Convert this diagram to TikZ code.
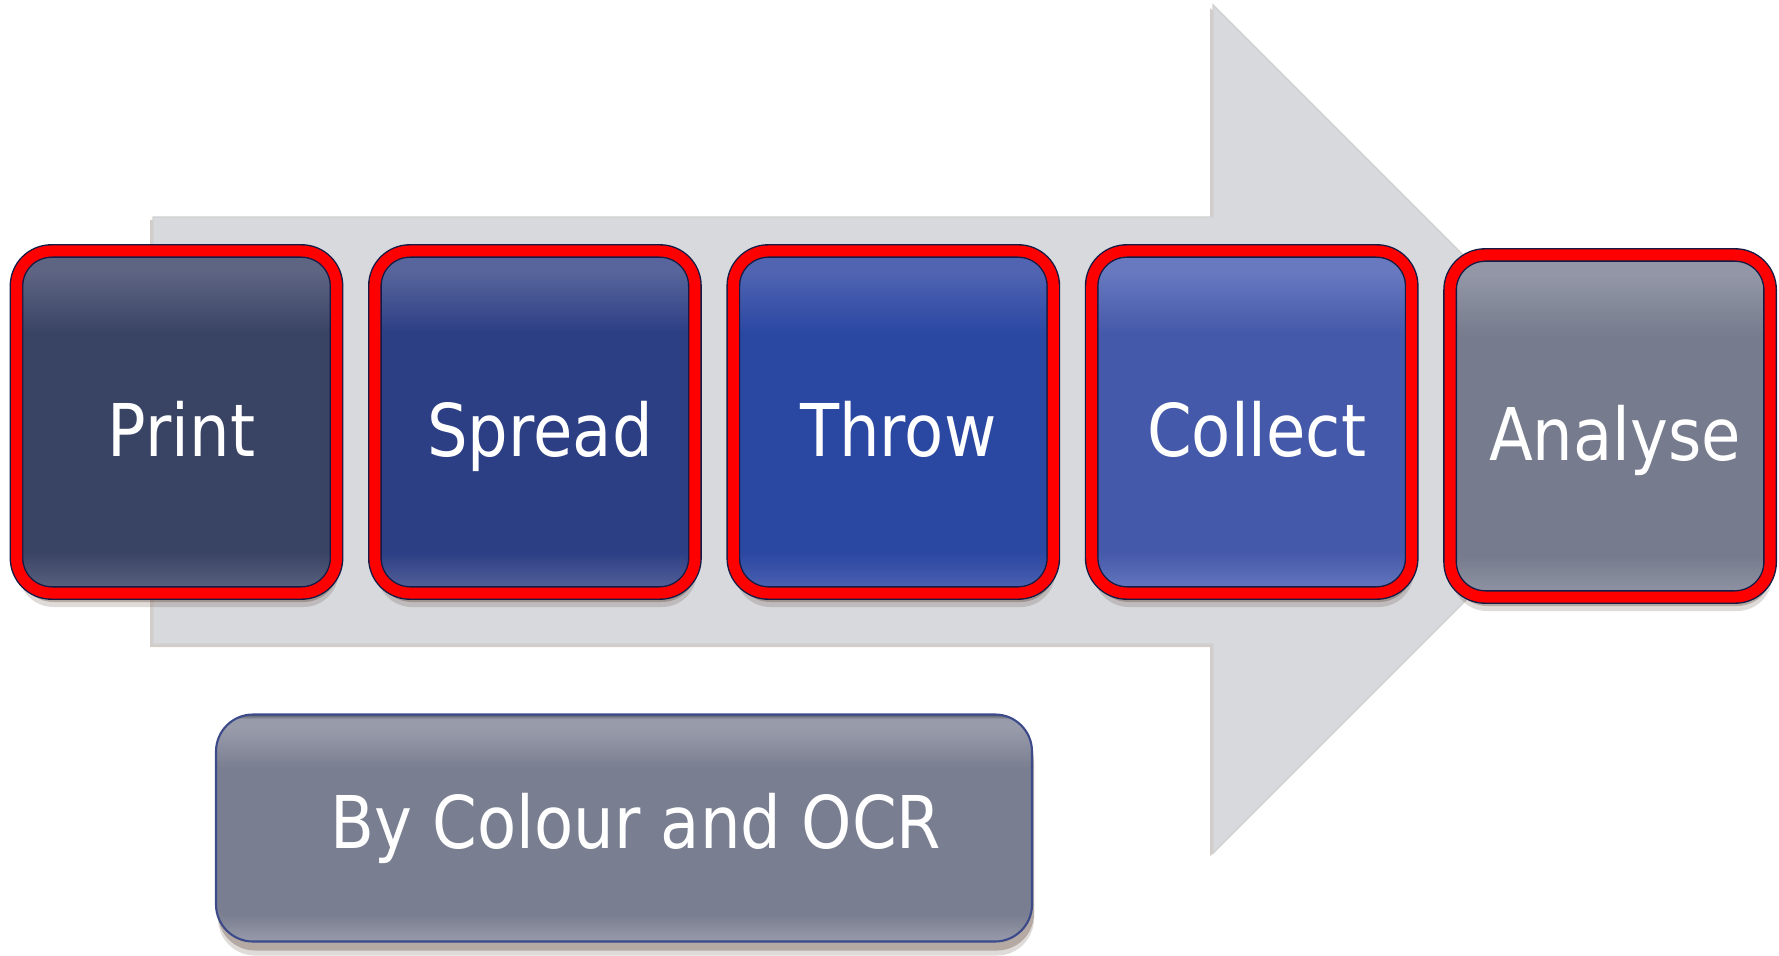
\documentclass[tikz,border=0pt]{standalone}
\usepackage{fontspec}
\newfontfamily\boxfont[FakeStretch=0.88]{DejaVu Sans}
\usepackage{tikz}
\usetikzlibrary{shadows}
\usepackage{xcolor}
\definecolor{arrowgray}{RGB}{216,217,221}
\definecolor{edgenavy}{RGB}{20,28,70}
\definecolor{edgeblue}{RGB}{60,74,138}
\definecolor{shadowbrown}{RGB}{80,55,40}
\definecolor{printmid}{RGB}{57,67,100}
\definecolor{printlt}{RGB}{94,101,131}
\definecolor{spreadmid}{RGB}{44,62,132}
\definecolor{spreadlt}{RGB}{88,101,156}
\definecolor{throwmid}{RGB}{42,71,162}
\definecolor{throwlt}{RGB}{80,100,178}
\definecolor{collectmid}{RGB}{68,89,169}
\definecolor{collectlt}{RGB}{104,121,192}
\definecolor{analysemid}{RGB}{118,123,141}
\definecolor{analyselt}{RGB}{146,150,166}
\definecolor{ocrmid}{RGB}{121,126,144}
\definecolor{ocrlt}{RGB}{152,155,170}

% light band at top and bottom, flat middle
\newcommand{\stepshade}[1]{%
  \pgfdeclareverticalshading{#1shade}{100bp}{color(0bp)=(#1lt); color(25bp)=(#1lt);
    color(31bp)=(#1mid); color(63bp)=(#1mid); color(72bp)=(#1lt); color(74bp)=(#1lt);
    color(75bp)=(#1mid!70!black); color(100bp)=(#1mid!70!black)}}
\stepshade{print}
\stepshade{spread}
\stepshade{throw}
\stepshade{collect}
\stepshade{analyse}
\stepshade{ocr}

\begin{document}
\begin{tikzpicture}[
  softshadow/.style={
    drop shadow={shadow xshift=0.02cm, shadow yshift=-0.14cm, fill=shadowbrown, opacity=0.18},
    drop shadow={shadow xshift=0.02cm, shadow yshift=-0.09cm, fill=shadowbrown, opacity=0.3}},
  stepbox/.style={rounded corners=0.35cm, minimum width=3.2cm, minimum height=3.42cm,
    outer sep=0pt, draw=edgenavy, line width=0.4pt, double=red, double distance=0.11cm,
    softshadow, text=white, font=\boxfont\fontsize{20.7}{25}\selectfont,
    text height=0.75cm, text depth=0.06cm, execute at begin node=\hspace{0.1cm}},
  ocrbox/.style={rounded corners=0.37cm, minimum width=8.16cm, minimum height=2.27cm,
    draw=edgeblue, line width=0.6pt, shading=ocrshade, softshadow,
    text=white, font=\boxfont\fontsize{20.7}{25}\selectfont,
    execute at begin node=\hspace{0.24cm}}]
  \useasboundingbox (0,0) rectangle (17.79,9.55);
  % big arrow behind the steps
  \filldraw[fill=arrowgray, draw=black!18, line width=0.4pt,
    drop shadow={shadow xshift=-0.03cm, shadow yshift=-0.03cm, fill=shadowbrown, opacity=0.25}]
    (1.53,7.38) -- (12.13,7.38) -- (12.13,9.50) -- (16.37,5.26)
    -- (12.13,1.02) -- (12.13,3.11) -- (1.53,3.11) -- cycle;
  \foreach \name/\word [count=\i] in {print/Print, spread/Spread, throw/Throw, collect/Collect, analyse/Analyse} {
    \ifnum\i=5
      \node[stepbox, shading=\name shade] (\name) at ({1.765+(\i-1)*3.584}, 5.29) {\word};
    \else
      \node[stepbox, shading=\name shade] (\name) at ({1.765+(\i-1)*3.584}, 5.33) {\word};
    \fi
  }
  \node[ocrbox] (ocr) at (6.24,1.27) {By Colour and OCR};
\end{tikzpicture}
\end{document}
